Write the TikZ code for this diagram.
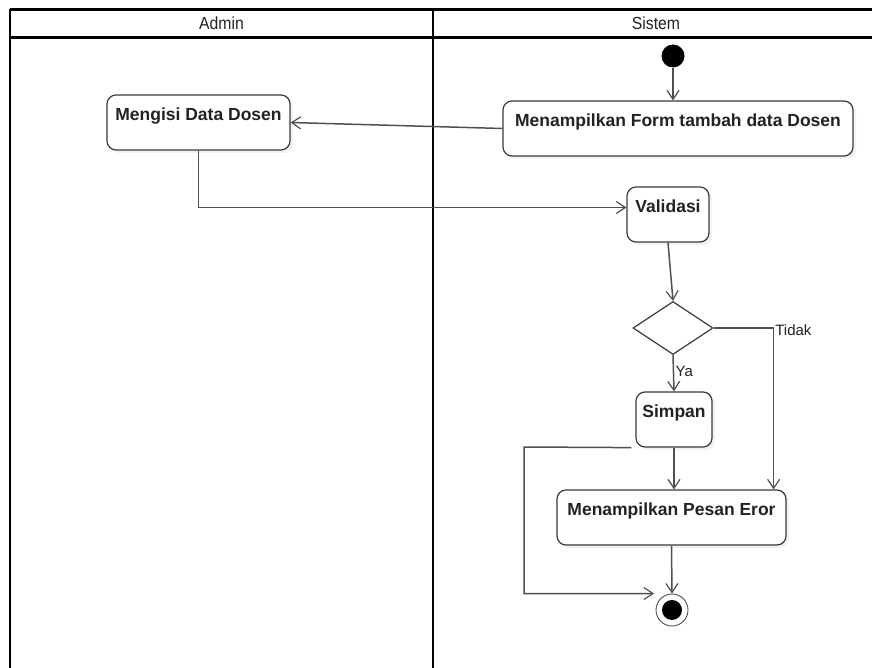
\documentclass[tikz,border=0pt]{standalone}
\usepackage{fontspec}
\setmainfont{Liberation Sans}
\newfontfamily\lanefont[FakeStretch=0.9]{Liberation Sans}
\usetikzlibrary{arrows.meta,shapes.geometric,shadows}
\definecolor{ink}{HTML}{222222}
\definecolor{edge}{HTML}{3A3A3A}
\definecolor{wire}{HTML}{505050}
\tikzset{
  lane/.style={line width=2.2pt, draw=black},
  lanetitle/.style={font=\lanefont\fontsize{17.5}{19}\selectfont, text=ink},
  act/.style={draw=edge, line width=1.2pt, rounded corners=9pt, fill=white,
    inner xsep=2pt, inner ysep=0pt, text height=25.5pt, text depth=29.5pt,
    font=\bfseries\fontsize{17.5}{20}\selectfont, text=ink,
    drop shadow={shadow xshift=3pt, shadow yshift=-3pt, opacity=0.10}},
  choice/.style={diamond, draw=edge, line width=1.2pt, fill=white, inner sep=0pt,
    minimum width=80pt, minimum height=53pt, aspect=1.5},
  startdot/.style={circle, fill=black, inner sep=0pt, minimum size=23pt},
  enddot/.style={circle, draw=wire, line width=0.9pt, fill=white, inner sep=0pt,
    minimum size=32pt,
    path picture={\fill[black] (path picture bounding box.center) circle (10pt);}},
  flow/.style={draw=wire, line width=1.5pt, -{Straight Barb[length=9pt,width=12pt,line width=1.2pt]}},
  guard/.style={font=\fontsize{15}{17}\selectfont, text=ink, inner sep=1.5pt}
}
\begin{document}
\begin{tikzpicture}[x=1pt, y=-1pt]
  \useasboundingbox (0,0) rectangle (872,668);
  \fill[white] (0,0) rectangle (872,668);

  % swimlane frame
  \draw[lane] (10,9.5) -- (872,9.5);
  \draw[lane] (10,37.5) -- (872,37.5);
  \draw[lane] (10,9.5) -- (10,668);
  \draw[lane] (433,9.5) -- (433,668);
  \node[lanetitle] (laneA) at (221.5,23) {Admin};
  \node[lanetitle] (laneS) at (656,23) {Sistem};

  % activities
  \node[startdot] (start) at (673,56) {};
  \node[act, minimum width=350pt] (form) at (678,128.5) {Menampilkan Form tambah data Dosen};
  \node[act, minimum width=183pt] (isi) at (198.5,122.5) {Mengisi Data Dosen};
  \node[act, minimum width=82pt] (valid) at (668,214.5) {Validasi};
  \node[choice] (dec) at (673,328) {};
  \node[act, minimum width=76pt] (simpan) at (674,419.5) {Simpan};
  \node[act, minimum width=229pt] (pesan) at (671.5,517.5) {Menampilkan Pesan Eror};
  \node[enddot] (end) at (672,610) {};

  % control flow
  \draw[flow] (start) -- (start |- form.north);
  \draw[flow] (form.west) -- (isi.east);
  \draw[flow] (isi.south) |- ([yshift=7pt]valid.west);
  \draw[flow] (valid.south) -- (dec.north);
  \draw[flow] (dec.south) -- node[guard, right, pos=0.45] (ya) {Ya} (simpan.north);
  \coordinate (tcorner) at ([xshift=-13pt]pesan.north east |- dec.east);
  \draw[flow] (dec.east) -- (tcorner) -- (tcorner |- pesan.north);
  \node[guard, anchor=west, yshift=-2pt] (tidak) at (tcorner) {Tidak};
  \draw[flow] (simpan.south) -- (simpan.south |- pesan.north);
  \coordinate (loop) at (524,447);
  \draw[flow] ([xshift=-4pt]simpan.south west) -- (loop) |- ([xshift=-18pt]end.north);
  \draw[flow] (pesan.south) -- (end.north);
\end{tikzpicture}
\end{document}
